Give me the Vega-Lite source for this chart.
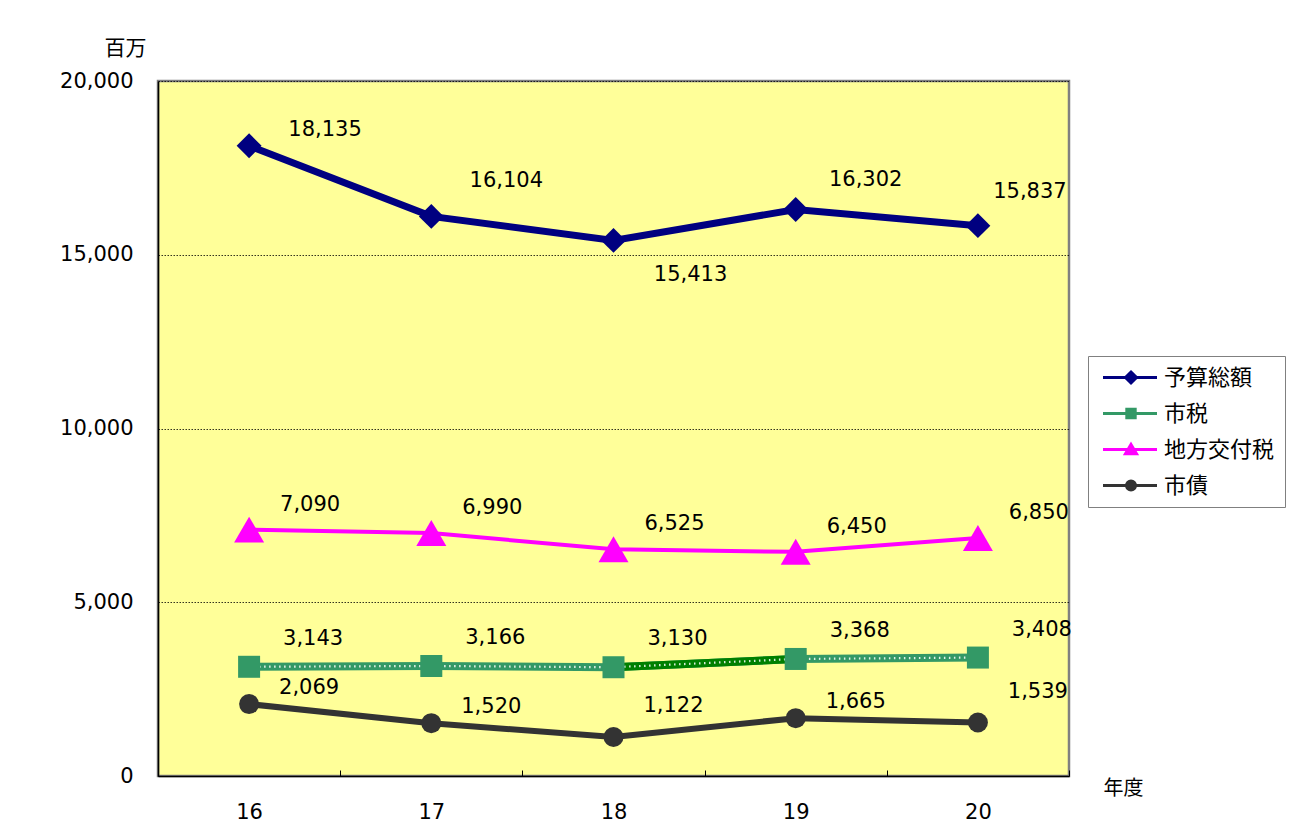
{
  "$schema": "https://vega.github.io/schema/vega-lite/v6.json",
  "width": 911,
  "height": 695,
  "autosize": {"type": "none"},
  "padding": {"left": 158, "top": 81, "right": 236, "bottom": 53},
  "background": "white",
  "config": {
    "view": {"fill": "#FFFF99", "stroke": "#808080", "strokeWidth": 2.5},
    "font": "DejaVu Sans"
  },
  "data": {
    "values": [
      {"year": "16", "series": "予算総額", "value": 18135},
      {"year": "17", "series": "予算総額", "value": 16104},
      {"year": "18", "series": "予算総額", "value": 15413},
      {"year": "19", "series": "予算総額", "value": 16302},
      {"year": "20", "series": "予算総額", "value": 15837},
      {"year": "16", "series": "市税", "value": 3143},
      {"year": "17", "series": "市税", "value": 3166},
      {"year": "18", "series": "市税", "value": 3130},
      {"year": "19", "series": "市税", "value": 3368},
      {"year": "20", "series": "市税", "value": 3408},
      {"year": "16", "series": "地方交付税", "value": 7090},
      {"year": "17", "series": "地方交付税", "value": 6990},
      {"year": "18", "series": "地方交付税", "value": 6525},
      {"year": "19", "series": "地方交付税", "value": 6450},
      {"year": "20", "series": "地方交付税", "value": 6850},
      {"year": "16", "series": "市債", "value": 2069},
      {"year": "17", "series": "市債", "value": 1520},
      {"year": "18", "series": "市債", "value": 1122},
      {"year": "19", "series": "市債", "value": 1665},
      {"year": "20", "series": "市債", "value": 1539}
    ]
  },
  "encoding": {
    "x": {
      "field": "year", "type": "nominal", "sort": ["16", "17", "18", "19", "20"],
      "scale": {"type": "band", "paddingInner": 0, "paddingOuter": 0},
      "axis": {
        "title": "年度", "titleFont": "Noto Sans CJK JP", "titleFontSize": 20, "titleFontWeight": "normal",
        "titleX": 965, "titleY": 12, "titleAlign": "center", "titleBaseline": "middle", "titleAngle": 0, "titleColor": "black",
        "labelAngle": 0, "labelFontSize": 21, "labelColor": "black", "labelPadding": 31,
        "tickBand": "extent", "tickSize": -6, "tickColor": "#000", "tickWidth": 1,
        "domainColor": "#000", "domainWidth": 1.5, "grid": false
      }
    },
    "y": {
      "field": "value", "type": "quantitative",
      "scale": {"domain": [0, 20000], "nice": false},
      "axis": {
        "title": "百万", "titleAngle": 0, "titleX": -33, "titleY": -33, "titleAlign": "center", "titleBaseline": "middle",
        "titleFont": "Noto Sans CJK JP", "titleFontSize": 21, "titleFontWeight": "normal", "titleColor": "black",
        "values": [0, 5000, 10000, 15000, 20000], "format": ",.0f", "labelFontSize": 21, "labelColor": "black",
        "labelPadding": 25, "labelFlush": false, "labelOverlap": false, "ticks": false,
        "domainColor": "#000", "domainWidth": 1.5,
        "grid": true, "gridColor": "#000", "gridDash": [1.5, 1.5], "gridWidth": 0.8
      }
    }
  },
  "layer": [
    {
      "mark": {"type": "line", "strokeWidth": 4},
      "encoding": {
        "color": {
          "field": "series", "type": "nominal",
          "scale": {"domain": ["予算総額", "市税", "地方交付税", "市債"], "range": ["#000080", "#339966", "#FF00FF", "#333333"]},
          "legend": {
            "title": null, "orient": "none", "legendX": 930, "legendY": 275, "padding": 10,
            "strokeColor": "#808080", "fillColor": "white",
            "labelFont": "Noto Sans CJK JP", "labelFontSize": 22, "labelColor": "black",
            "labelOffset": 43, "rowPadding": 13, "symbolSize": 400, "symbolStrokeWidth": 3,
            "encode": {
              "symbols": {
                "update": {
                  "shape": {"signal": "datum.value === '予算総額' ? 'M-0.65,0H4.75M2.15,-0.55L2.7,0L2.15,0.55L1.6,0Z' : datum.value === '市税' ? 'M-0.65,0H4.75M1.73,-0.42H2.57V0.42H1.73Z' : datum.value === '地方交付税' ? 'M-0.65,0H4.75M2.15,-0.5L2.7,0.42L1.6,0.42Z' : 'M-0.65,0H4.75M1.7,0A0.45,0.45 0 1,0 2.6,0A0.45,0.45 0 1,0 1.7,0Z'"},
                  "fill": {"scale": "color", "field": "value"},
                  "stroke": {"scale": "color", "field": "value"},
                  "strokeWidth": {"value": 3},
                  "size": {"value": 400},
                  "opacity": {"value": 1}
                }
              }
            }
          }
        }
      }
    },
    {
      "transform": [{"filter": "datum.series === '予算総額'"}],
      "mark": {"type": "line", "color": "#000080", "strokeWidth": 7},
      "encoding": {}
    },
    {
      "transform": [{"filter": "datum.series === '市税'"}],
      "mark": {"type": "line", "color": "#339966", "strokeWidth": 8},
      "encoding": {}
    },
    {
      "transform": [{"filter": "datum.series === '市債'"}],
      "mark": {"type": "line", "color": "#333333", "strokeWidth": 6},
      "encoding": {}
    },
    {
      "transform": [{"filter": "datum.series === '市税' && (datum.year === '18' || datum.year === '19')"}],
      "mark": {"type": "line", "color": "#008000", "strokeWidth": 8},
      "encoding": {}
    },
    {
      "transform": [{"filter": "datum.series === '市税'"}],
      "mark": {"type": "line", "color": "white", "strokeWidth": 2.2, "strokeDash": [1.5, 3.5], "opacity": 0.85},
      "encoding": {}
    },
    {
      "transform": [{"filter": "datum.series === '予算総額'"}],
      "mark": {"type": "point", "filled": true, "opacity": 1, "shape": "diamond", "size": 620, "color": "#000080"}
    },
    {
      "transform": [{"filter": "datum.series === '市税'"}],
      "mark": {"type": "point", "filled": true, "opacity": 1, "shape": "square", "size": 484, "color": "#339966"}
    },
    {
      "transform": [{"filter": "datum.series === '地方交付税'"}],
      "mark": {"type": "point", "filled": true, "opacity": 1, "shape": "triangle-up", "size": 900, "color": "#FF00FF"}
    },
    {
      "transform": [{"filter": "datum.series === '市債'"}],
      "mark": {"type": "point", "filled": true, "opacity": 1, "shape": "circle", "size": 400, "color": "#333333"}
    },
    {
      "transform": [{"filter": "datum.series === '地方交付税'"}],
      "mark": {"type": "text", "fontSize": 21, "color": "black", "dx": 61, "dy": -25},
      "encoding": {"text": {"field": "value", "type": "quantitative", "format": ","}}
    },
    {
      "transform": [{"filter": "datum.series === '市税'"}],
      "mark": {"type": "text", "fontSize": 21, "color": "black", "dx": 64, "dy": -28},
      "encoding": {"text": {"field": "value", "type": "quantitative", "format": ","}}
    },
    {
      "transform": [{"filter": "datum.series === '市債' && (datum.year === '16' || datum.year === '17' || datum.year === '19')"}],
      "mark": {"type": "text", "fontSize": 21, "color": "black", "dx": 60, "dy": -16},
      "encoding": {"text": {"field": "value", "type": "quantitative", "format": ","}}
    },
    {
      "transform": [{"filter": "datum.series === '市債' && (datum.year === '18' || datum.year === '20')"}],
      "mark": {"type": "text", "fontSize": 21, "color": "black", "dx": 60, "dy": -31},
      "encoding": {"text": {"field": "value", "type": "quantitative", "format": ","}}
    },
    {
      "transform": [{"filter": "datum.series === '予算総額' && datum.year === '16'"}],
      "mark": {"type": "text", "fontSize": 21, "color": "black", "dx": 76, "dy": -16},
      "encoding": {"text": {"field": "value", "type": "quantitative", "format": ","}}
    },
    {
      "transform": [{"filter": "datum.series === '予算総額' && datum.year === '17'"}],
      "mark": {"type": "text", "fontSize": 21, "color": "black", "dx": 75, "dy": -35},
      "encoding": {"text": {"field": "value", "type": "quantitative", "format": ","}}
    },
    {
      "transform": [{"filter": "datum.series === '予算総額' && datum.year === '18'"}],
      "mark": {"type": "text", "fontSize": 21, "color": "black", "dx": 77, "dy": 35},
      "encoding": {"text": {"field": "value", "type": "quantitative", "format": ","}}
    },
    {
      "transform": [{"filter": "datum.series === '予算総額' && datum.year === '19'"}],
      "mark": {"type": "text", "fontSize": 21, "color": "black", "dx": 70, "dy": -30},
      "encoding": {"text": {"field": "value", "type": "quantitative", "format": ","}}
    },
    {
      "transform": [{"filter": "datum.series === '予算総額' && datum.year === '20'"}],
      "mark": {"type": "text", "fontSize": 21, "color": "black", "dx": 52, "dy": -34},
      "encoding": {"text": {"field": "value", "type": "quantitative", "format": ","}}
    }
  ]
}
